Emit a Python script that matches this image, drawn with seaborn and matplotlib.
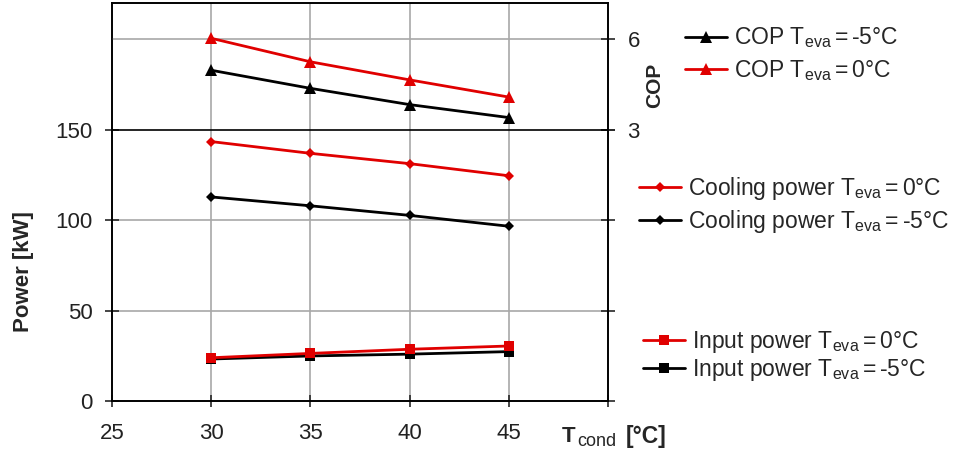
import matplotlib
matplotlib.use("Agg")
import matplotlib.pyplot as plt
import seaborn as sns

# condenser temperature [°C]
t_cond = [30, 35, 40, 45]

# COP (right axis)
cop_eva_m5 = [4.97, 4.37, 3.83, 3.40]
cop_eva_0 = [6.03, 5.25, 4.65, 4.08]

# power [kW] (left axis)
cooling_eva_0 = [143.4, 136.9, 131.2, 124.5]
cooling_eva_m5 = [112.8, 107.9, 102.6, 96.6]
input_eva_0 = [23.9, 26.3, 28.6, 30.4]
input_eva_m5 = [23.2, 24.9, 25.9, 27.3]

x_ticks = [25, 30, 35, 40, 45]
power_ticks = [0, 50, 100, 150]
cop_ticks = [3, 6]

sns.set_style("ticks")
plt.rcParams["font.family"] = ["Liberation Sans", "DejaVu Sans"]
plt.rcParams["mathtext.default"] = "regular"

RED = "#e00000"
BLACK = "#000000"
GRID = "#a8a8a8"

fig = plt.figure(figsize=(9.71, 4.55), dpi=100)
ax = fig.add_axes([0.1153, 0.1187, 0.5109, 0.8747])
ax2 = ax.twinx()


def draw(axis, y, color, marker, ms):
    sns.lineplot(x=t_cond, y=y, ax=axis, color=color, marker=marker, markersize=ms,
                 mec=color, mfc=color, mew=0, linewidth=2, legend=False)
    return axis.lines[-1]


h_in_m5 = draw(ax, input_eva_m5, BLACK, "s", 7.5)
h_in_0 = draw(ax, input_eva_0, RED, "s", 7.5)
h_cool_m5 = draw(ax, cooling_eva_m5, BLACK, "D", 5)
h_cool_0 = draw(ax, cooling_eva_0, RED, "D", 5)
h_cop_m5 = draw(ax2, cop_eva_m5, BLACK, "^", 9)
h_cop_0 = draw(ax2, cop_eva_0, RED, "^", 9)

ax.set_xlim(25, 50)
ax.set_ylim(0, 220)
ax2.set_ylim(-6, 7.2)

ax.set_xticks(x_ticks + [50])
ax.set_xticklabels([str(v) for v in x_ticks] + [""])
ax.set_yticks(power_ticks)
ax2.set_yticks(cop_ticks)

ax.set_xlabel("")
ax.set_ylabel("")
ax2.set_ylabel("")

# grid lines
for v in x_ticks[1:]:
    ax.axvline(v, color=GRID, lw=1.2, zorder=0.5)
for v in power_ticks[1:3]:
    ax.axhline(v, color=GRID, lw=1.2, zorder=0.5)
ax2.axhline(cop_ticks[1], color=GRID, lw=1.2, zorder=0.5)
ax2.axhline(cop_ticks[0], color=BLACK, lw=1.2, zorder=0.6)

for a in (ax, ax2):
    for s in a.spines.values():
        s.set_visible(True)
        s.set_color(BLACK)
        s.set_linewidth(1.2)

ax.tick_params(axis="x", direction="inout", length=9, width=1.2, pad=11,
               labelsize=16, labelcolor="#222222")
ax.tick_params(axis="y", direction="inout", length=10, width=1.2, pad=9,
               labelsize=16, labelcolor="#222222", right=True, labelright=False)
ax2.tick_params(axis="y", direction="inout", length=10, width=1.2, pad=9,
                labelsize=16, labelcolor="#222222")

# axis titles
fig.text(23 / 971, 1 - 272 / 455, "Power [kW]", rotation=90, ha="center", va="center",
         fontsize=16, fontweight="bold")
fig.text(655 / 971, 1 - 85 / 455, "COP", rotation=90, ha="center", va="center",
         fontsize=15, fontweight="bold")
fig.text(562 / 971, 1 - 442 / 455, "T", ha="left", va="baseline",
         fontsize=16, fontweight="bold")
fig.text(577 / 971, 1 - 446 / 455, "cond", ha="left", va="baseline", fontsize=13)
fig.text(626 / 971, 1 - 443 / 455, "[°C]", ha="left", va="baseline",
         fontsize=16.5, fontweight="bold")


def lbl(prefix, temp):
    return prefix + r" T$_{eva}$$\,$=$\,$" + temp + "°C"


leg_kw = dict(frameon=False, borderpad=0, borderaxespad=0, handlelength=1.85,
              handletextpad=0.3, fontsize=16.5, loc="center left")
fig.legend([h_cop_m5, h_cop_0],
           [lbl("COP", "-5"), lbl("COP", "0")],
           bbox_to_anchor=(685 / 971, 1 - 54.5 / 455), labelspacing=0.35, **leg_kw)
fig.legend([h_cool_0, h_cool_m5],
           [lbl("Cooling power", "0"), lbl("Cooling power", "-5")],
           bbox_to_anchor=(639 / 971, 1 - 205 / 455), labelspacing=0.3, **leg_kw)
fig.legend([h_in_0, h_in_m5],
           [lbl("Input power", "0"), lbl("Input power", "-5")],
           bbox_to_anchor=(643 / 971, 1 - 356 / 455), labelspacing=0.1, **leg_kw)

fig.savefig("out.png", dpi=100)
